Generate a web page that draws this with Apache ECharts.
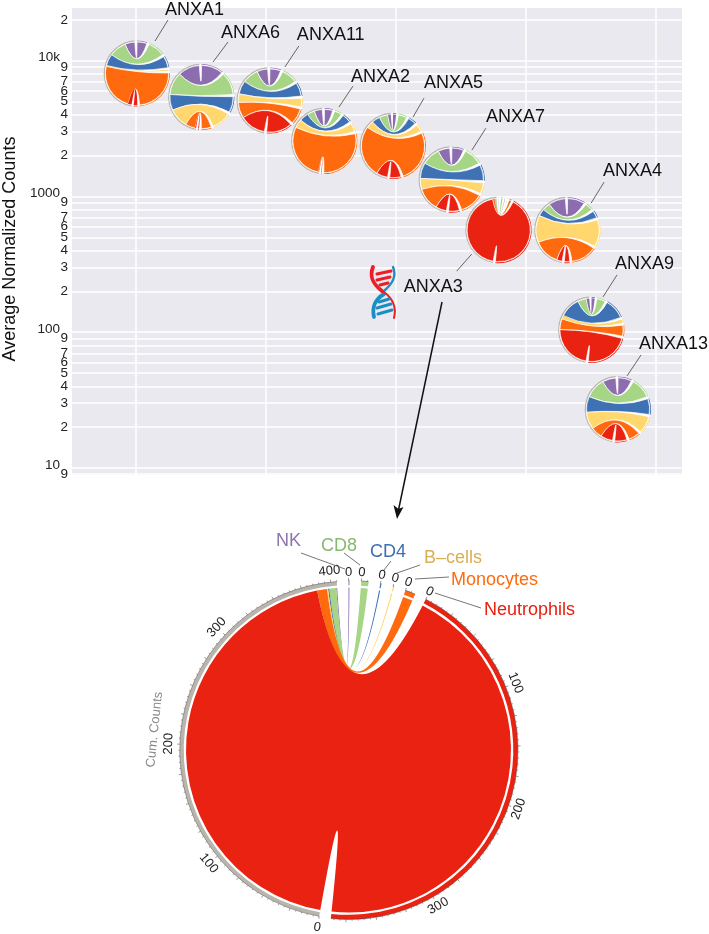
<!DOCTYPE html>
<html>
<head>
<meta charset="utf-8">
<title>ANXA</title>
<script src="https://cdn.jsdelivr.net/npm/echarts@6/dist/echarts.min.js"></script>
<style>
html, body { margin: 0; padding: 0; background: #fff; }
#container { width: 709px; height: 934px; }
</style>
</head>
<body>
<div id="container"></div>
<script>
var genes = ['ANXA1', 'ANXA6', 'ANXA11', 'ANXA2', 'ANXA5', 'ANXA7', 'ANXA3', 'ANXA4', 'ANXA9', 'ANXA13'];
var geneRank = [1.008, 1.504, 2.03, 2.45, 2.977, 3.43, 3.79, 4.32, 4.504, 4.708];
var avgCounts = [8050, 5400, 5090, 2560, 2350, 1330, 565, 565, 104, 27];

// percent of each gene's counts per cell type
var nk = [11, 24, 12, 9, 3.5, 13, 0.2, 19, 3.5, 15];
var cd8 = [19, 25, 17.5, 8, 9.5, 20, 1.5, 8.5, 9.5, 22.5];
var cd4 = [13, 17.5, 15, 10, 9, 17.5, 0.25, 8, 22.5, 17.5];
var bCells = [1, 21.5, 9.5, 9.5, 8, 12, 0.25, 30, 4, 19];
var monocytes = [52, 11, 17.5, 63, 57.5, 25.5, 2.1, 28.5, 12, 12.5];
var neutrophils = [4, 1, 28.5, 0.5, 12.5, 12, 95.7, 6, 48.5, 13.5];

var cellNames = ['NK', 'CD8', 'CD4', 'B\u2013cells', 'Monocytes', 'Neutrophils'];
var yTicks = [9, 10, 20, 30, 40, 50, 60, 70, 80, 90, 100, 200, 300, 400, 500, 600, 700, 800, 900,
    1000, 2000, 3000, 4000, 5000, 6000, 7000, 8000, 9000, 10000, 20000];
var xTicks = [1, 2, 3, 4, 5];

var zoomGene = 6; // ANXA3 is the enlarged one
var zoomTotal = 405; // Cum. Counts of the enlarged chord

var cellColors = ['#8C6DB0', '#A6D585', '#3F72B5', '#FFD76E', '#FF6A0E', '#E92211'];
var cellTextColors = ['#8E73B0', '#86B96E', '#3E6FB0', '#D9AF55', '#FF6A0D', '#E8200F'];
var trackGray = '#B9B5AD';
var fontName = '"Liberation Sans", Arial, sans-serif';

// text left, text y, leader start, leader end: offsets from the mark centre
var labelPlace = [
    [28, -63.5, 31, -53.5, 18, -32.5],
    [19.5, -64, 26.5, -55, 11.5, -35],
    [27, -65.5, 29, -54.5, 15, -33.5],
    [26.5, -64, 28.5, -55, 14.5, -34],
    [31, -63, 31, -48, 20, -29],
    [34, -62.5, 34, -51.5, 20, -29.5],
    [-95, 57, -27, 24, -42, 41],
    [35.5, -59, 36.5, -48, 23.5, -27],
    [23.5, -66, 25.5, -55, 11.5, -33],
    [21, -65.5, 23, -54.5, 9, -33.5]
];
// text left, text y, leader start, leader end for the enlarged chord
var cellLabelPlace = [
    [276, 541, 301, 553, 345, 569],
    [321, 546, 344, 553, 360, 565],
    [370, 552, 391, 561, 384, 570],
    [424, 558, 420, 565, 397, 573],
    [451, 580, 449, 577, 415, 579],
    [484, 610, 481, 608, 435, 593]
];

var GAP = 4, START = 190, HALF = (360 - 7 * GAP) / 2;

function pt(c, r, deg) {
    var a = deg * Math.PI / 180;
    return [c[0] + r * Math.sin(a), c[1] - r * Math.cos(a)];
}

function arcTo(r, p, sweep, large) {
    return 'A' + r + ' ' + r + ' 0 ' + (large ? 1 : 0) + ' ' + sweep + ' ' + p[0] + ' ' + p[1];
}

function sectorPath(c, r0, r1, a, b) {
    var p1 = pt(c, r1, a), p2 = pt(c, r1, b), p3 = pt(c, r0, b), p4 = pt(c, r0, a);
    var large = b - a > 180;
    return 'M' + p1[0] + ' ' + p1[1] + arcTo(r1, p2, 1, large) + 'L' + p3[0] + ' ' + p3[1] +
        arcTo(r0, p4, 0, large) + 'Z';
}

function arcPath(c, r, a, b) {
    var p1 = pt(c, r, a), p2 = pt(c, r, b);
    return 'M' + p1[0] + ' ' + p1[1] + arcTo(r, p2, 1, b - a > 180);
}

function ribbonPath(c, r, a1, a2, b1, b2) {
    // right arc a1-a2, then over the centre to left arc b1-b2 and back
    var p1 = pt(c, r, a1), p2 = pt(c, r, a2), p3 = pt(c, r, b1), p4 = pt(c, r, b2);
    var q = 'Q' + c[0] + ' ' + c[1] + ' ';
    return 'M' + p1[0] + ' ' + p1[1] + arcTo(r, p2, 1, a2 - a1 > 180) +
        q + p3[0] + ' ' + p3[1] + arcTo(r, p4, 1, b2 - b1 > 180) +
        q + p1[0] + ' ' + p1[1] + 'Z';
}

function sharesOf(i) {
    return [nk[i], cd8[i], cd4[i], bCells[i], monocytes[i], neutrophils[i]];
}

function chordShapes(c, R, shares, trackIn, ribbonR, grayOut, edge) {
    var out = [];
    var k = HALF / 100;
    var trackStyle = function (path, color) {
        return { type: 'path', shape: { pathData: path }, style: { fill: color } };
    };
    out.push(trackStyle(sectorPath(c, trackIn, grayOut, START, START + HALF), trackGray));
    var a = START + HALF + GAP;
    var below = 100;
    for (var i = 0; i < 6; i++) {
        var w = shares[i] * k;
        var outline = edge && shares[i] >= 5; // a white edge would wipe out the thin ribbons
        below -= shares[i];
        out.push(trackStyle(sectorPath(c, trackIn, R, a, a + w), cellColors[i]));
        out.push({
            type: 'path',
            shape: { pathData: ribbonPath(c, ribbonR, a, a + w, START + below * k, START + (below + shares[i]) * k) },
            style: { fill: cellColors[i], stroke: outline ? '#fff' : null, lineWidth: outline ? edge : 0 }
        });
        a += w + GAP;
    }
    return out;
}

function line(p1, p2, color, width) {
    return {
        type: 'line',
        shape: { x1: p1[0], y1: p1[1], x2: p2[0], y2: p2[1] },
        style: { stroke: color, lineWidth: width }
    };
}

function tangentText(c, r, deg, text, size) {
    var p = pt(c, r, deg);
    var d = ((deg % 360) + 360) % 360;
    var turn = (d > 90 && d < 270) ? d - 180 : d;
    return {
        type: 'text',
        x: p[0], y: p[1],
        rotation: -turn * Math.PI / 180,
        style: { text: text, fill: '#222', font: size + 'px ' + fontName, align: 'center', verticalAlign: 'middle' }
    };
}

function renderGene(params, api) {
    var i = api.value(2);
    var c = api.coord([api.value(0), api.value(1)]);
    var R = 33;
    var place = labelPlace[i];
    var kids = [{
        type: 'circle',
        shape: { cx: c[0], cy: c[1], r: R },
        style: { fill: '#fff' }
    }];
    kids = kids.concat(chordShapes(c, R, sharesOf(i), 32.2, 31.6, 33.4, 0.7));
    kids.push(line([c[0] + place[2], c[1] + place[3]], [c[0] + place[4], c[1] + place[5]], '#555', 0.9));
    kids.push({
        type: 'text',
        x: c[0] + place[0], y: c[1] + place[1],
        style: { text: genes[i], fill: '#111', font: '18px ' + fontName, align: 'left', verticalAlign: 'middle' }
    });
    return { type: 'group', children: kids };
}

function dnaStrand(path, color, width) {
    return { type: 'path', shape: { pathData: path }, style: { fill: null, stroke: color, lineWidth: width, lineCap: 'round' } };
}

var dnaRed = '#EE1C25', dnaBlue = '#1B8FC4';

function dnaIcon() {
    return [
        dnaStrand('M393 267C397 277 392 284 384 291', dnaBlue, 2.4),
        dnaStrand('M384 294C374 300 372 309 374 317', dnaBlue, 3.8),
        dnaStrand('M384 292C392 298 397 306 394 318', dnaRed, 2),
        dnaStrand('M373 267C369 277 373 284 382 291', dnaRed, 3.8),
        dnaStrand('M377 274L391 271', dnaRed, 3),
        dnaStrand('M377 280L390 277', dnaRed, 3),
        dnaStrand('M380 285L388 283', dnaRed, 3),
        dnaStrand('M379 302L389 299', dnaBlue, 3),
        dnaStrand('M377 308L391 304', dnaBlue, 3),
        dnaStrand('M378 314L392 310', dnaBlue, 3)
    ];
}

function countTicks(c, r, from, total, perCount) {
    var out = [];
    for (var v = 0; v <= total; v += 5) {
        var deg = from + v * perCount;
        out.push(line(pt(c, r, deg), pt(c, r + (v % 25 === 0 ? 2.6 : 1.3), deg), '#333', 0.5));
    }
    return out;
}

function renderZoom(params, api) {
    var i = api.value(0);
    var c = [348.5, 750];
    var R = 169.5;
    var shares = sharesOf(i);
    var kids = chordShapes(c, R, shares, 164.8, 162.5, 168.8, 0);
    var perCount = HALF / zoomTotal;
    var v;
    // left track 0..400
    kids.push({ type: 'path', shape: { pathData: arcPath(c, 168.8, START, START + HALF) }, style: { fill: null, stroke: '#555', lineWidth: 0.5 } });
    kids = kids.concat(countTicks(c, 168.8, START, zoomTotal, perCount));
    for (v = 0; v <= zoomTotal; v += 100) {
        kids.push(tangentText(c, 180, START + v * perCount, String(v), 13));
    }
    // right sectors each start from their own 0
    var a = START + HALF + GAP;
    for (var s = 0; s < 6; s++) {
        var cellTotal = shares[s] / 100 * zoomTotal;
        var sectorEnd = a + cellTotal * perCount;
        kids.push({ type: 'path', shape: { pathData: arcPath(c, R, a, sectorEnd) }, style: { fill: null, stroke: '#444', lineWidth: 0.5 } });
        kids = kids.concat(countTicks(c, R, a, cellTotal, perCount));
        for (v = 100; v <= cellTotal; v += 100) {
            kids.push(tangentText(c, 180, a + v * perCount, String(v), 13));
        }
        kids.push(tangentText(c, 178, a, '0', 13));
        var place = cellLabelPlace[s];
        kids.push(line([place[2], place[3]], [place[4], place[5]], '#666', 0.9));
        kids.push({
            type: 'text', x: place[0], y: place[1],
            style: { text: cellNames[s], fill: cellTextColors[s], font: '18px ' + fontName, align: 'left', verticalAlign: 'middle' }
        });
        a = sectorEnd + GAP;
    }
    var nameAt = pt(c, 195, 276);
    kids.push({
        type: 'text', x: nameAt[0], y: nameAt[1], rotation: 84 * Math.PI / 180,
        style: { text: 'Cum. Counts', fill: '#8a8a8a', font: '13px ' + fontName, align: 'center', verticalAlign: 'middle' }
    });
    kids = kids.concat(dnaIcon());
    return { type: 'group', children: kids };
}

var geneRows = genes.map(function (g, i) {
    return [geneRank[i], avgCounts[i], i];
});

var option = {
    animation: false,
    backgroundColor: '#fff',
    textStyle: { fontFamily: fontName },
    grid: {
        left: 72, top: 8, right: 27, bottom: 459, outerBoundsMode: 'none',
        show: true, backgroundColor: '#EBE9F0', borderWidth: 0
    },
    xAxis: {
        type: 'value', min: 0.508, max: 5.2,
        axisLine: { show: false },
        axisTick: { show: false, customValues: xTicks },
        axisLabel: { show: false },
        splitLine: { show: true, lineStyle: { color: '#fff', width: 1.5 } }
    },
    yAxis: {
        type: 'log', logBase: 10, min: 8.88, max: 24450,
        name: 'Average Normalized Counts',
        nameLocation: 'middle', nameRotate: 90, nameGap: 51,
        nameTextStyle: { fontSize: 18, color: '#111', fontFamily: fontName, padding: [0, 15, 0, 0] },
        axisLine: { show: false },
        axisTick: { show: false, customValues: yTicks },
        axisLabel: {
            show: true, margin: 4, customValues: yTicks, color: '#222', fontSize: 13.5, fontFamily: fontName,
            formatter: function (v) {
                var first = Number(String(v).charAt(0));
                if (v === 10000) return '{big|10k}';
                if (first === 1) return '{big|' + v + '}';
                return first === 8 ? '' : String(first);
            },
            rich: { big: { fontSize: 13.5, color: '#222', fontFamily: fontName, padding: [0, 8, 6, 0] } }
        },
        splitLine: { show: true, lineStyle: { color: '#fff', width: 1.5 } }
    },
    series: [
        {
            name: 'genes',
            type: 'custom',
            coordinateSystem: 'cartesian2d',
            renderItem: renderGene,
            encode: { x: 0, y: 1 },
            clip: false,
            z: 3,
            data: geneRows
        },
        {
            name: 'zoom',
            type: 'custom',
            coordinateSystem: 'none',
            renderItem: renderZoom,
            z: 3,
            data: [[zoomGene]]
        }
    ],
    graphic: [
        { type: 'line', z: 5, shape: { x1: 442, y1: 302, x2: 398.5, y2: 510 }, style: { stroke: '#111', lineWidth: 1.5 } },
        { type: 'polygon', z: 5, shape: { points: [[397, 519], [393.5, 505], [398.5, 509], [403.5, 507]] }, style: { fill: '#111' } }
    ]
};

var myChart = echarts.init(document.getElementById('container'));
myChart.setOption(option, true);
</script>
</body>
</html>
